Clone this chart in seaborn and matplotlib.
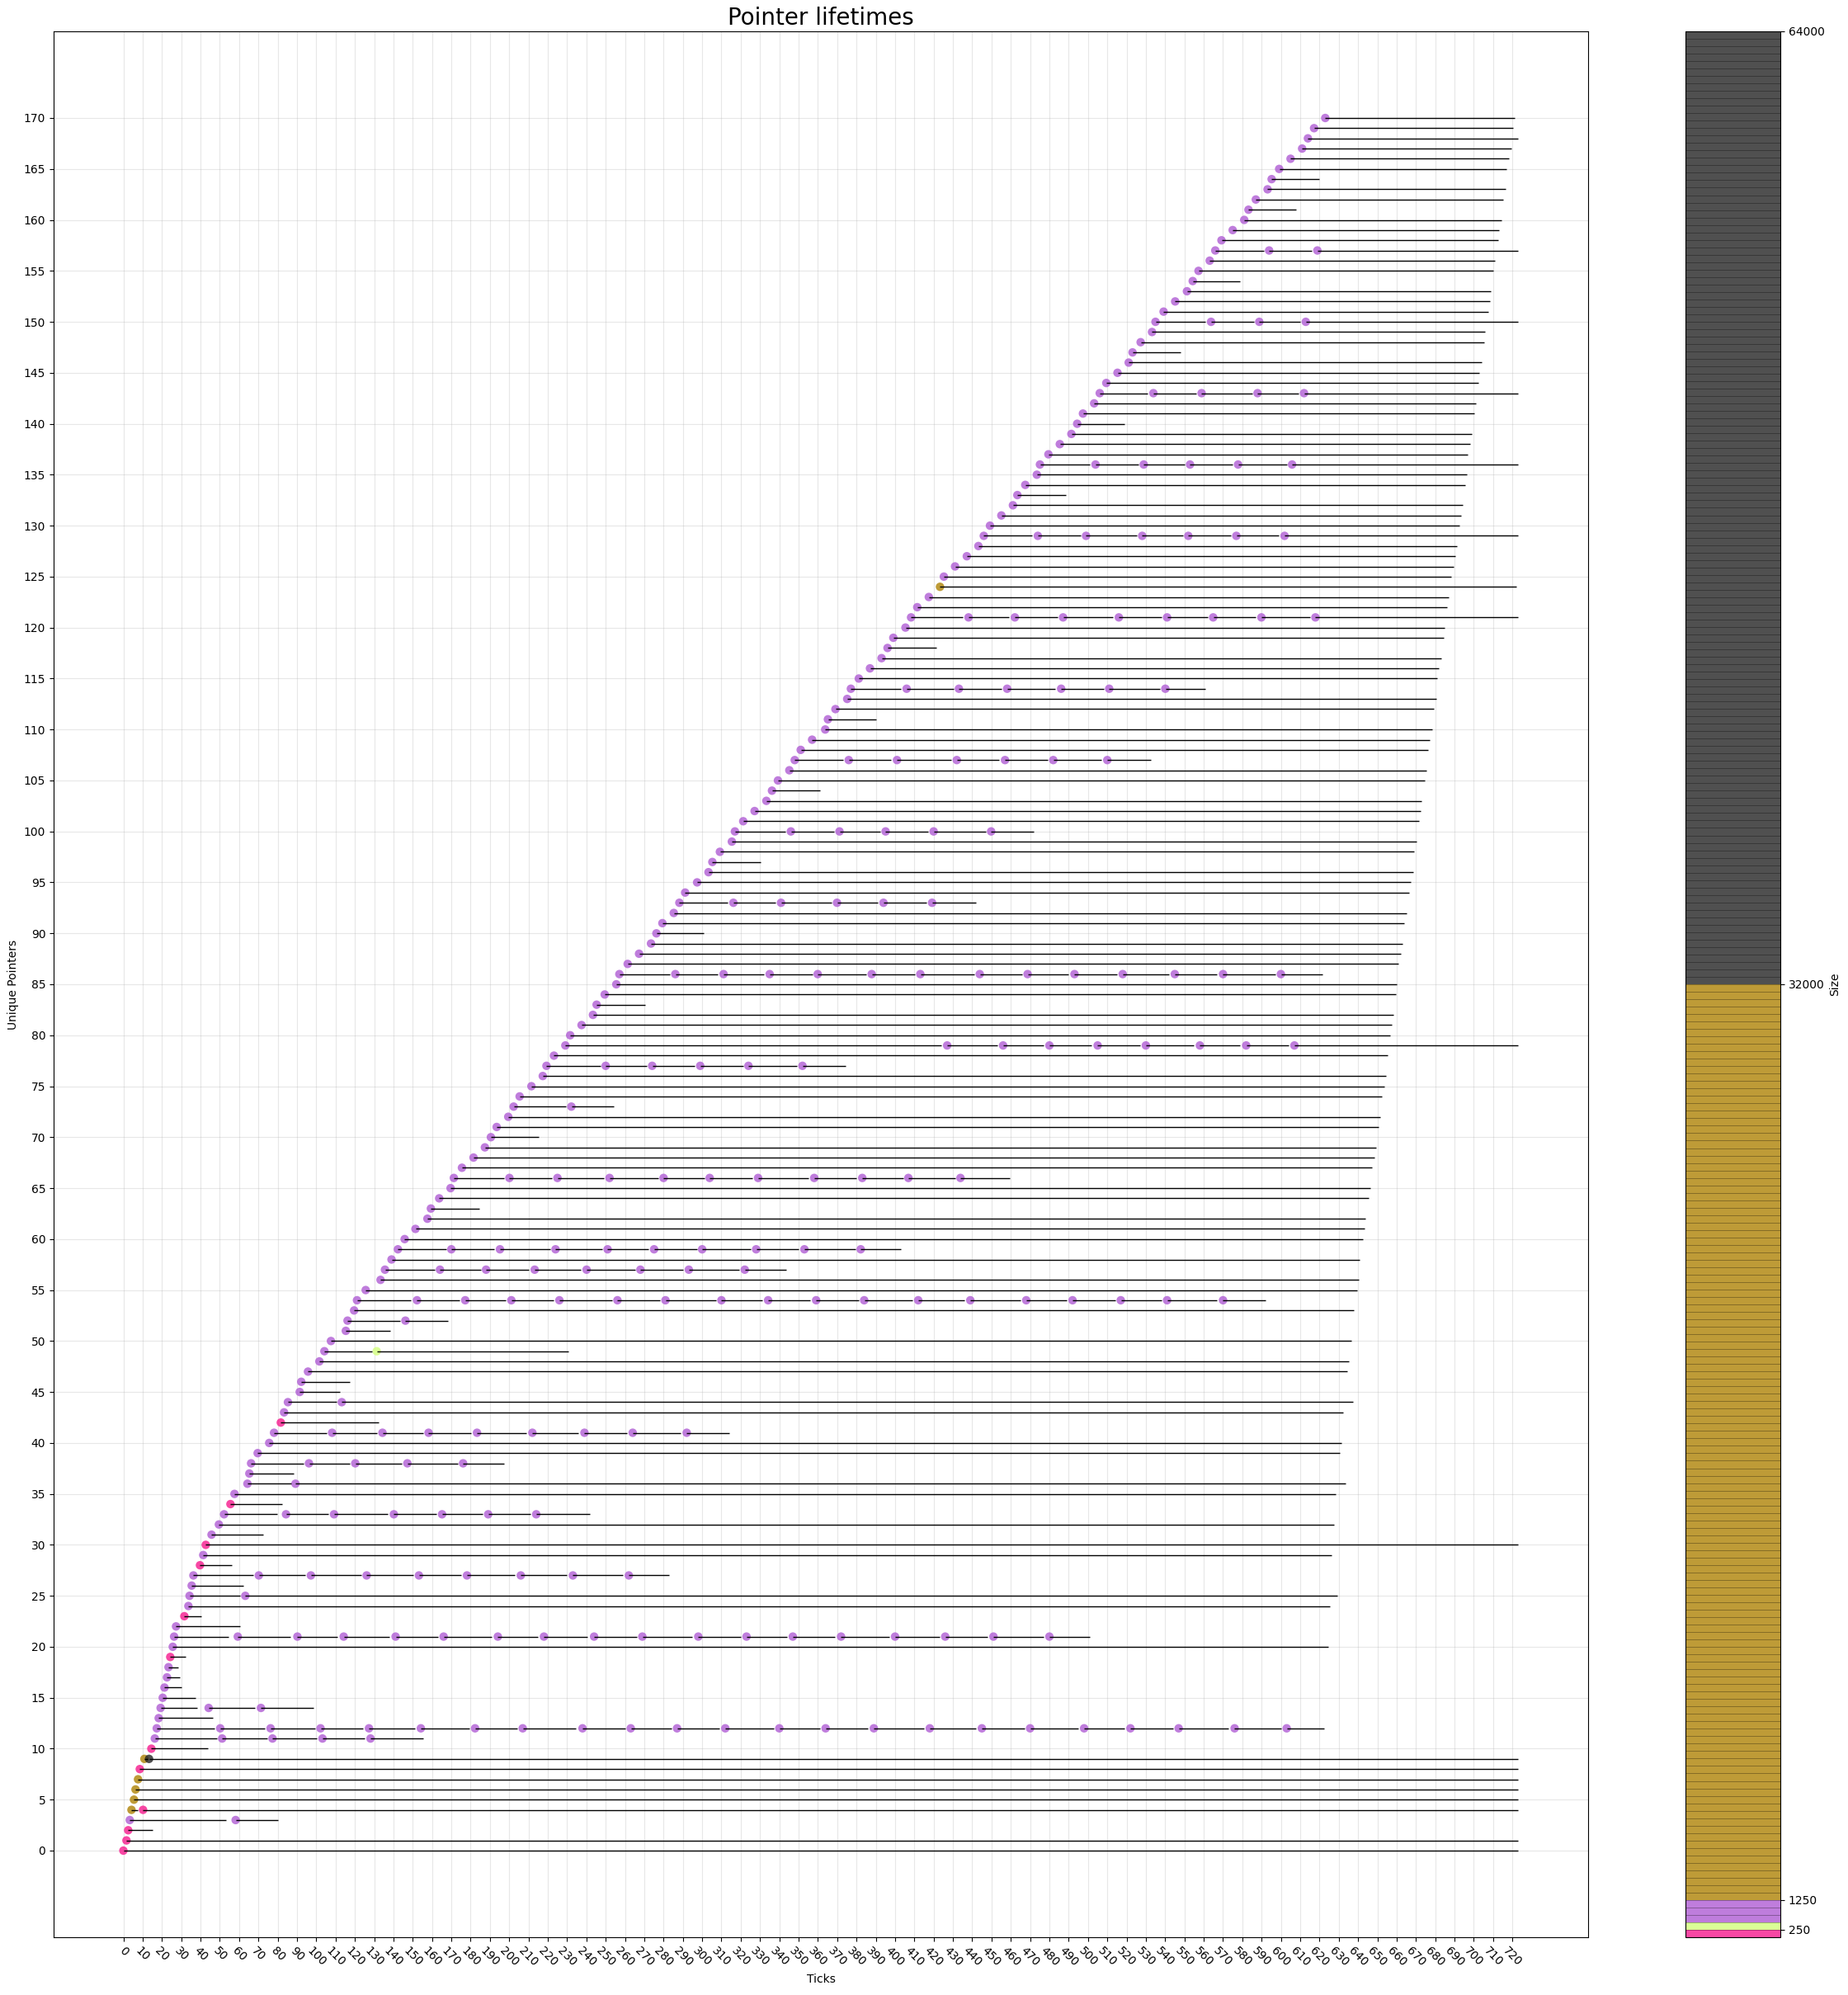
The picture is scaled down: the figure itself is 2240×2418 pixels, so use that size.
import matplotlib
matplotlib.use("Agg")
import matplotlib.pyplot as plt
from matplotlib.colors import ListedColormap, BoundaryNorm
from matplotlib.cm import ScalarMappable
from matplotlib.ticker import NullLocator
import seaborn as sns
import numpy as np
import pandas as pd

# one entry per pointer: tick of every (re)allocation, tick where it is freed, size
alloc_ticks = [
    [0], [1.6], [2.5], [3.3, 58.2], [4.2, 10.2], [5.5], [6.3], [7.6], [8.5], [10.9, 13.3],
    [14.5], [16.3, 51.2, 77.3, 103.2, 128.1],
    [17.3, 50.2, 76.3, 102.2, 127.3, 154.2, 182.3, 207, 238, 263, 287, 312, 340, 364, 389, 418, 445, 470, 498, 522, 547, 576, 603],
    [18.3], [19.3, 44.2, 71.3], [20.4], [21.3], [22.6], [23.4], [24.3], [25.6],
    [26.3, 59.3, 90.2, 114.2, 141.1, 166.0, 194.1, 218, 244, 269, 298, 323, 347, 372, 400, 426, 451, 480],
    [27.3], [31.6], [33.7], [34.3, 63.2], [35.4],
    [36.3, 70.2, 97.2, 126.1, 153.2, 178.1, 206, 233, 262],
    [39.7], [41.4],                                                     # 28-29
    [42.7], [45.7], [49.5], [52.2, 84.3, 109.2, 140.2, 165.2, 189.1, 214], [55.5], [57.6],
    [64.3, 89.2], [65.3], [66.2, 96.2, 120.2, 147.2, 176.1], [69.6],    # 36-39
    [75.6], [78.1, 108.2, 134.3, 158.2, 183.3, 212, 239, 264, 292], [81.6], [83.3], [85.3, 113.2],
    [91.4], [92.2], [95.7], [101.6], [104.2, 131.3],                    # 45-49
    [107.6], [115.3], [116.2, 146.2], [119.6],
    [121.1, 152.2, 177.2, 201.1, 226.0, 256.1, 281.0, 310.0, 334.2, 359.1, 384.0, 412.0, 439.0, 468.0, 492, 517, 541, 570],
    [125.6], [133.3], [135.6, 164.1, 188.0, 213.2, 240.1, 268.0, 293.1, 322.1], [139.0],
    [142.3, 170.0, 195.2, 224.0, 251.0, 275.1, 300.0, 328.0, 353.0, 382.2],
    [145.8], [151.4], [157.6], [159.4], [163.7], [169.6],               # 60-65
    [171.3, 200.1, 225.0, 252.0, 280.0, 303.9, 329.0, 358.1, 383.0, 406.9, 433.9],
    [175.5], [181.5], [187.4], [190.5], [193.5], [199.5], [202.3, 232.2], [205.4], [211.5], [217.4],
    [219.3, 250.0, 274.1, 299.0, 324.0, 352.0], [223.2],
    [229.1, 427, 456, 480, 505, 530, 558, 582, 607],
    [231.6], [237.5], [243.4], [245.3], [249.5], [255.5],               # 80-85
    [257.1, 286.1, 311.1, 335.0, 359.9, 387.9, 413.1, 443.9, 468.7, 493, 518, 545, 570, 600],
    [261.4], [267.3], [273.5], [276.3], [279.4], [285.3],               # 87-92
    [288.2, 316.2, 340.9, 369.9, 394.0, 419.2],
    [291.2], [297.4], [303.3], [305.3], [309.2], [315.4],               # 94-99
    [317.0, 346.0, 371.2, 395.1, 420.0, 449.8],
    [321.3], [327.2], [333.3], [336.2], [339.3], [345.2],               # 101-106
    [348.0, 376.0, 401.0, 432.0, 457.0, 482.0, 510.0],
    [351.1], [357.0], [363.8], [365.2], [369.1], [375.2],               # 108-113
    [377.1, 406.0, 433.1, 458.1, 486.1, 511.0, 540.1],
    [381.2], [387.0], [393.0], [396.1], [399.1], [405.4],               # 115-120
    [408.3, 438.1, 462.1, 487.1, 516.0, 541.0, 564.9, 589.9, 617.9],
    [411.5], [417.5], [423.3], [425.3], [431.1], [437.2], [443.2],      # 122-128
    [446.0, 474.0, 499.0, 528.1, 552.0, 576.9, 601.9],
    [449.2], [455.1], [461.1], [463.4], [467.5], [473.5],               # 130-135
    [475.1, 503.9, 528.9, 552.9, 577.8, 605.8],
    [479.5], [485.4], [491.4], [494.4], [497.4], [503.2],               # 137-142
    [506.1, 533.9, 558.9, 587.9, 612.0],
    [509.5], [515.3], [521.1], [523.1], [527.3], [533.2],               # 144-149
    [535.0, 563.8, 588.8, 612.9],
    [539.2], [545.2], [551.3], [554.3], [557.3], [563.1],               # 151-156
    [566.0, 593.9, 618.9],
    [569.2], [575.0], [581.0], [583.2], [587.0], [593.1], [595.2],      # 158-164
    [599.1], [605.0], [611.0], [614.0], [617.2], [623.0],               # 165-170
]

free_ticks = [
    [723], [723], [15.2], [53.2, 80.3], [7.5, 723], [723], [723], [723], [723], [12.5, 723],
    [43.7], [48.6, 74.5, 100.3, 125.1, 155.5],
    [47.2, 73.3, 99.3, 124.3, 151.2, 179.3, 204, 234.5, 260, 284, 309, 337, 361, 386, 415, 442, 467, 495, 519, 544, 573, 600, 622.2],
    [46.5], [38.4, 68.3, 98.5], [37.5], [30.1], [29.4], [28.6], [32.4], [624.4],
    [54.5, 86.5, 111, 138, 163, 191, 215, 240.5, 266, 295, 320, 344, 369, 397, 423, 448, 477, 501],
    [60.6], [40.4], [625.3], [60.5, 629.1], [62.3],
    [67.4, 94.3, 123.3, 150.3, 175.3, 203, 230, 259, 283],
    [56.3], [626.1],
    [723], [72.6], [627.4], [79.6, 106.3, 137, 162.3, 186.3, 211, 242], [82.4], [628.3],
    [86.8, 633.4], [88.4], [93.4, 117.4, 144.4, 173.3, 197.4], [630.4],
    [631.3], [105.4, 131.4, 155.4, 180.3, 209, 236, 261, 289, 314], [132.4], [632.1], [110.6, 637.3],
    [112.3], [117.4], [634.3], [635.1], [129.0, 230.5],
    [636.4], [138.4], [143.4, 168.3], [637.9],
    [149.2, 174.3, 198.3, 223.2, 253.2, 278.1, 307.1, 331.3, 356.2, 381.1, 409.1, 436.1, 465, 489, 514, 538, 567, 592],
    [639.4], [640.2], [161.3, 185.2, 210.3, 237.3, 265.2, 290.2, 319.2, 343.4], [640.9],
    [167.2, 192.3, 221.2, 248.1, 272.2, 297.2, 325.1, 350.2, 379.3, 403.2],
    [642.4], [643.2], [643.9], [184.5], [645.4], [646.2],
    [197.2, 222.2, 249.1, 277.2, 301.1, 326.2, 355.3, 380.1, 404.1, 431.1, 459.3],
    [647.1], [648.4], [649.2], [215.2], [650.5], [651.4], [229.4, 254.0], [652.2], [653.5], [654.3],
    [247.2, 271.2, 296.1, 321.2, 349.1, 374.2], [655.2],
    [424, 453, 477, 502, 527, 555, 579, 604, 723],
    [656.5], [657.3], [658.2], [270.4], [659.5], [660.2],
    [283.2, 308.2, 332.1, 357.1, 385.1, 410.2, 441, 465.8, 490, 515, 542, 567, 597, 621.5],
    [661.0], [662.3], [663.2], [301.0], [664.0], [665.2],
    [313.3, 338.1, 367.0, 391.1, 416.2, 442.1],
    [666.3], [667.2], [668.4], [330.3], [669.2], [670.2],
    [343.1, 368.2, 392.2, 417.1, 447.0, 472.0],
    [671.4], [672.3], [673.0], [361.3], [674.4], [675.3],
    [373.1, 398.1, 429.1, 454.1, 479.1, 507.1, 532.5],
    [676.1], [677.3], [678.3], [390.0], [679.1], [680.4],
    [403.1, 430.2, 455.2, 483.2, 508.1, 537.2, 561.0],
    [681.1], [682.0], [683.3], [421.4], [684.3], [685.0],
    [435.2, 459.2, 484.2, 513.1, 538.1, 562.0, 587.0, 615.0, 723],
    [686.3], [687.1], [722.1], [688.1], [689.4], [690.4], [691.1],
    [471.1, 496.1, 525.2, 549.1, 574.0, 599.0, 723],
    [692.4], [693.2], [694.1], [488.4], [695.4], [696.2],
    [501.0, 526.0, 550.0, 575.0, 603.0, 723],
    [696.9], [698.2], [699.1], [519.0], [700.1], [701.2],
    [531.0, 556.0, 585.0, 609.1, 723],
    [702.2], [702.9], [704.2], [548.2], [705.2], [706.0],
    [561.0, 586.0, 610.0, 723],
    [707.3], [708.2], [708.9], [578.9], [710.2], [711.0],
    [591.0, 616.0, 723],
    [712.5], [713.2], [714.2], [607.9], [715.3], [716.3], [620.0],
    [717.0], [718.4], [719.3], [723.1], [720.2], [721.3],
]

alloc_sizes = [
    [200], [200], [200], [1000, 1000], [16000, 200], [16000], [16000], [16000], [200], [16000, 48000],
    [200], [1000, 1000, 1000, 1000, 1000],
    [1000, 1000, 1000, 1000, 1000, 1000, 1000, 1000, 1000, 1000, 1000, 1000,
     1000, 1000, 1000, 1000, 1000, 1000, 1000, 1000, 1000, 1000, 1000],
    [1000], [1000, 1000, 1000], [1000], [1000], [1000], [1000], [200], [1000],
    [1000, 1000, 1000, 1000, 1000, 1000, 1000, 1000, 1000, 1000, 1000, 1000,
     1000, 1000, 1000, 1000, 1000, 1000],
    [1000], [200], [1000], [1000, 1000], [1000],
    [1000, 1000, 1000, 1000, 1000, 1000, 1000, 1000, 1000],
    [200], [1000],
    [200], [1000], [1000], [1000, 1000, 1000, 1000, 1000, 1000, 1000], [200], [1000],
    [1000, 1000], [1000], [1000, 1000, 1000, 1000, 1000], [1000],
    [1000], [1000, 1000, 1000, 1000, 1000, 1000, 1000, 1000, 1000], [200], [1000], [1000, 1000],
    [1000], [1000], [1000], [1000], [1000, 400],
    [1000], [1000], [1000, 1000], [1000],
    [1000, 1000, 1000, 1000, 1000, 1000, 1000, 1000, 1000, 1000, 1000, 1000,
     1000, 1000, 1000, 1000, 1000, 1000],
    [1000], [1000], [1000, 1000, 1000, 1000, 1000, 1000, 1000, 1000], [1000],
    [1000, 1000, 1000, 1000, 1000, 1000, 1000, 1000, 1000, 1000],
    [1000], [1000], [1000], [1000], [1000], [1000],
    [1000, 1000, 1000, 1000, 1000, 1000, 1000, 1000, 1000, 1000, 1000],
    [1000], [1000], [1000], [1000], [1000], [1000], [1000, 1000], [1000], [1000], [1000],
    [1000, 1000, 1000, 1000, 1000, 1000], [1000],
    [1000, 1000, 1000, 1000, 1000, 1000, 1000, 1000, 1000],
    [1000], [1000], [1000], [1000], [1000], [1000],
    [1000, 1000, 1000, 1000, 1000, 1000, 1000, 1000, 1000, 1000, 1000, 1000, 1000, 1000],
    [1000], [1000], [1000], [1000], [1000], [1000],
    [1000, 1000, 1000, 1000, 1000, 1000],
    [1000], [1000], [1000], [1000], [1000], [1000],
    [1000, 1000, 1000, 1000, 1000, 1000],
    [1000], [1000], [1000], [1000], [1000], [1000],
    [1000, 1000, 1000, 1000, 1000, 1000, 1000],
    [1000], [1000], [1000], [1000], [1000], [1000],
    [1000, 1000, 1000, 1000, 1000, 1000, 1000],
    [1000], [1000], [1000], [1000], [1000], [1000],
    [1000, 1000, 1000, 1000, 1000, 1000, 1000, 1000, 1000],
    [1000], [1000], [16000], [1000], [1000], [1000], [1000],
    [1000, 1000, 1000, 1000, 1000, 1000, 1000],
    [1000], [1000], [1000], [1000], [1000], [1000],
    [1000, 1000, 1000, 1000, 1000, 1000],
    [1000], [1000], [1000], [1000], [1000], [1000],
    [1000, 1000, 1000, 1000, 1000],
    [1000], [1000], [1000], [1000], [1000], [1000],
    [1000, 1000, 1000, 1000],
    [1000], [1000], [1000], [1000], [1000], [1000],
    [1000, 1000, 1000],
    [1000], [1000], [1000], [1000], [1000], [1000], [1000],
    [1000], [1000], [1000], [1000], [1000], [1000],
]

# size bands of the colour scale
band_edges = [0, 250, 500, 1250, 32000, 64000]
band_colors = ["#f61a8e", "#d3ff7c", "#af5cd4", "#ae8205", "#242424"]
size_palette = {200: "#f61a8e", 400: "#d3ff7c", 1000: "#af5cd4", 16000: "#ae8205", 48000: "#242424"}
cbar_ticks = [250, 1250, 32000, 64000]

# flatten to one row per lifetime segment
rows = []
for ptr, (st, en, sz) in enumerate(zip(alloc_ticks, free_ticks, alloc_sizes)):
    for s, e, z in zip(st, en, sz):
        rows.append((ptr, s, e, z))
seg = pd.DataFrame(rows, columns=["pointer", "start", "end", "size"])

fig = plt.figure(figsize=(22.4, 24.18), dpi=100)
ax = fig.add_axes([0.02902, 0.02895, 0.83036, 0.95534])
cax = fig.add_axes([0.91205, 0.02895, 0.05134, 0.95534])

sns.scatterplot(data=seg, x="start", y="pointer", hue="size", palette=size_palette,
                s=55, alpha=0.8, linewidth=0, legend=False, ax=ax, zorder=2)
ax.hlines(seg["pointer"], seg["start"], seg["end"], colors="black", linewidth=1.0, zorder=3)

ax.set_xticks(np.arange(0, 721, 10))
ax.set_yticks(np.arange(0, 171, 5))
plt.setp(ax.get_xticklabels(), rotation=-45)
ax.grid(True, color="#b0b0b0", alpha=0.3, linewidth=0.8)
ax.set_axisbelow(True)
ax.set_xlabel("Ticks")
ax.set_ylabel("Unique Pointers")
ax.set_title("Pointer lifetimes", fontsize=20)

# colour bar: 250-wide bins, coloured by size band
bounds = np.arange(0, 64001, 250)
bin_colors = []
for lo in bounds[:-1]:
    for i in range(len(band_colors)):
        if band_edges[i] <= lo < band_edges[i + 1]:
            bin_colors.append(band_colors[i])
cmap = ListedColormap(bin_colors)
norm = BoundaryNorm(bounds, cmap.N)
sm = ScalarMappable(norm=norm, cmap=cmap)
cb = fig.colorbar(sm, cax=cax, ticks=cbar_ticks, alpha=0.8, drawedges=True)
cb.ax.yaxis.set_minor_locator(NullLocator())
cb.dividers.set_color((0, 0, 0, 0.35))
cb.dividers.set_linewidth(0.6)
cb.set_label("Size")

fig.savefig("out.png", dpi=100)
